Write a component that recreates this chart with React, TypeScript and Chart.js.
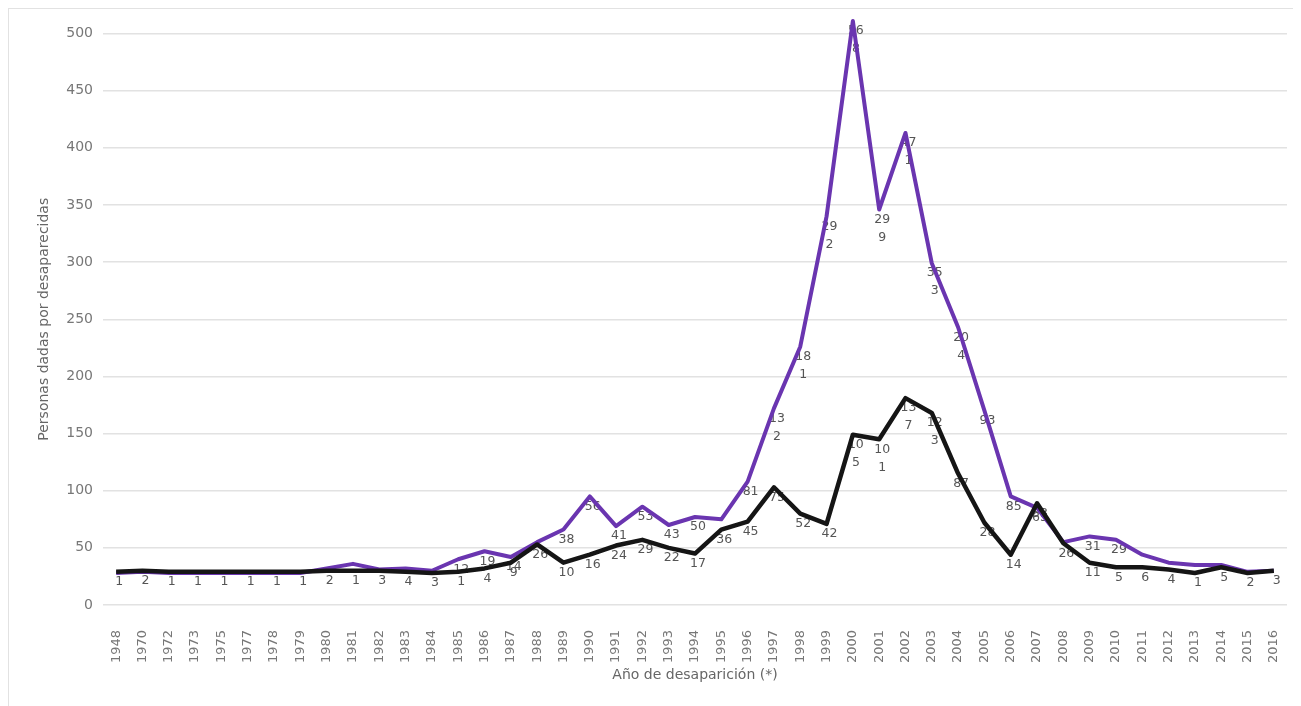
import React, { useEffect, useRef } from "react";
import { Chart, registerables } from "chart.js";

Chart.register(...registerables);

const FONT = "'DejaVu Sans', sans-serif";

const years = [
  "1948", "1970", "1972", "1973", "1975", "1977", "1978", "1979", "1980", "1981",
  "1982", "1983", "1984", "1985", "1986", "1987", "1988", "1989", "1990", "1991",
  "1992", "1993", "1994", "1995", "1996", "1997", "1998", "1999", "2000", "2001",
  "2002", "2003", "2004", "2005", "2006", "2007", "2008", "2009", "2010", "2011",
  "2012", "2013", "2014", "2015", "2016",
];

const purpleValues = [
  28, 29, 28, 28, 28, 28, 28, 28, 32, 36,
  31, 32, 30, 40, 47, 42, 55, 66, 95, 69,
  86, 70, 77, 75, 108, 172, 226, 340, 511, 346,
  413, 299, 243, 170, 95, 85, 55, 60, 57, 44,
  37, 35, 35, 29, 30,
];

const blackValues = [
  29, 30, 29, 29, 29, 29, 29, 29, 30, 30,
  30, 29, 28, 29, 32, 37, 53, 37, 44, 52,
  57, 50, 45, 66, 73, 103, 80, 71, 149, 145,
  181, 168, 115, 72, 44, 89, 54, 37, 33, 33,
  31, 28, 33, 28, 30,
];

const purpleLabels = [
  "", "", "", "", "", "", "", "", "", "",
  "", "", "", "12", "19", "14", "", "38", "56", "41",
  "53", "43", "50", "", "81", "132", "181", "292", "568", "299",
  "471", "353", "204", "93", "85", "63", "", "31", "29", "",
  "", "", "", "", "",
];

const blackLabels = [
  "1", "2", "1", "1", "1", "1", "1", "1", "2", "1",
  "3", "4", "3", "1", "4", "9", "26", "10", "16", "24",
  "29", "22", "17", "36", "45", "75", "52", "42", "105", "101",
  "137", "123", "87", "28", "14", "53", "26", "11", "5", "6",
  "4", "1", "5", "2", "3",
];

const yMin = 0;
const yMax = 500;
const yStep = 50;

const pointLabelPlugin = {
  id: "pointLabelPlugin",
  beforeDatasetsDraw(chart: any) {
    const ctx = chart.ctx;
    ctx.save();
    ctx.font = `12.5px ${FONT}`;
    ctx.fillStyle = "#555";
    ctx.textAlign = "center";
    ctx.textBaseline = "middle";
    chart.data.datasets.forEach((ds: any, di: number) => {
      const meta = chart.getDatasetMeta(di);
      const labels: string[] = ds.pointLabels || [];
      meta.data.forEach((pt: any, i: number) => {
        const t = labels[i];
        if (!t) return;
        const lines = t.length > 2 ? [t.slice(0, 2), t.slice(2)] : [t];
        lines.forEach((ln, k) => {
          ctx.fillText(ln, pt.x + 3, pt.y + 10 + k * 18);
        });
      });
    });
    ctx.restore();
  },
};

export default function App() {
  const canvasRef = useRef<HTMLCanvasElement | null>(null);

  useEffect(() => {
    if (!canvasRef.current) return;
    const chart = new Chart(canvasRef.current, {
      type: "line",
      data: {
        labels: years,
        datasets: [
          {
            label: "Serie negra",
            data: blackValues,
            borderColor: "#151515",
            backgroundColor: "#151515",
            borderWidth: 4.5,
            pointRadius: 0,
            tension: 0,
            borderJoinStyle: "round",
            clip: false,
            order: 0,
            pointLabels: blackLabels,
          } as any,
          {
            label: "Serie morada",
            data: purpleValues,
            borderColor: "#6a35b0",
            backgroundColor: "#6a35b0",
            borderWidth: 4,
            pointRadius: 0,
            tension: 0,
            borderJoinStyle: "round",
            clip: false,
            order: 1,
            pointLabels: purpleLabels,
          } as any,
        ],
      },
      options: {
        animation: false,
        responsive: false,
        devicePixelRatio: 1,
        layout: { padding: { top: 24.5, right: 14, left: 0, bottom: 0 } },
        plugins: {
          legend: { display: false },
          tooltip: { enabled: false },
        },
        scales: {
          x: {
            type: "category",
            offset: true,
            grid: { display: false, drawTicks: false },
            border: { display: false },
            ticks: {
              autoSkip: false,
              minRotation: 90,
              maxRotation: 90,
              padding: 25,
              color: "#777",
              font: { family: FONT, size: 13 },
            },
            title: {
              display: true,
              text: "Año de desaparición (*)",
              color: "#666",
              font: { family: FONT, size: 14 },
              padding: { top: 0, bottom: 22 },
            },
            afterFit: (s: any) => {
              s.height = 101;
              s.paddingLeft = 0;
              s.paddingRight = 0;
            },
          },
          y: {
            min: yMin,
            max: yMax,
            ticks: {
              stepSize: yStep,
              padding: 10,
              color: "#777",
              font: { family: FONT, size: 14 },
            },
            grid: { color: "#e2e2e2", lineWidth: 1.5, drawTicks: false },
            border: { display: false },
            title: {
              display: true,
              text: "Personas dadas por desaparecidas",
              color: "#666",
              font: { family: FONT, size: 14 },
              padding: { top: 27, bottom: 0 },
            },
            afterFit: (s: any) => {
              s.width = 94;
              s.paddingTop = 0;
              s.paddingBottom = 0;
            },
          },
        },
      },
      plugins: [pointLabelPlugin],
    });
    return () => chart.destroy();
  }, []);

  return (
    <div
      style={{
        width: 1292,
        height: 697,
        border: "1px solid #e2e2e2",
        background: "#fff",
        fontFamily: FONT,
      }}
    >
      <canvas ref={canvasRef} width={1292} height={697} style={{ display: "block" }} />
    </div>
  );
}
